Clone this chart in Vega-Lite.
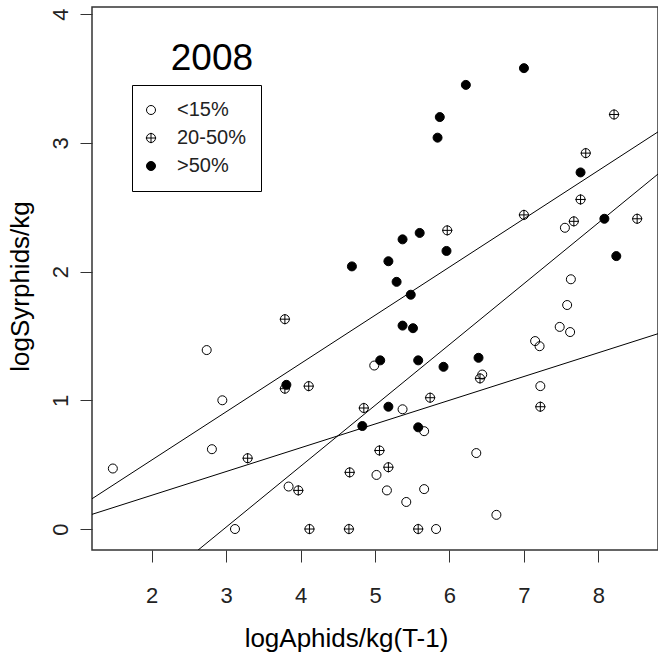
{
  "$schema": "https://vega.github.io/schema/vega-lite/v6.json",
  "autosize": "none",
  "width": 566,
  "height": 543,
  "padding": {"left": 92, "top": 7, "right": 0, "bottom": 112},
  "background": "white",
  "datasets": {
    "catches": [
      {"group": "<15%", "aphids": 1.48, "syrphids": 0.47},
      {"group": "<15%", "aphids": 2.74, "syrphids": 1.39},
      {"group": "<15%", "aphids": 2.95, "syrphids": 1.00},
      {"group": "<15%", "aphids": 2.81, "syrphids": 0.62},
      {"group": "<15%", "aphids": 3.12, "syrphids": 0.00},
      {"group": "<15%", "aphids": 3.84, "syrphids": 0.33},
      {"group": "<15%", "aphids": 4.99, "syrphids": 1.27},
      {"group": "<15%", "aphids": 5.37, "syrphids": 0.93},
      {"group": "<15%", "aphids": 5.66, "syrphids": 0.76},
      {"group": "<15%", "aphids": 6.36, "syrphids": 0.59},
      {"group": "<15%", "aphids": 5.02, "syrphids": 0.42},
      {"group": "<15%", "aphids": 5.16, "syrphids": 0.30},
      {"group": "<15%", "aphids": 5.66, "syrphids": 0.31},
      {"group": "<15%", "aphids": 5.42, "syrphids": 0.21},
      {"group": "<15%", "aphids": 5.82, "syrphids": 0.00},
      {"group": "<15%", "aphids": 6.44, "syrphids": 1.20},
      {"group": "<15%", "aphids": 7.63, "syrphids": 1.94},
      {"group": "<15%", "aphids": 7.58, "syrphids": 1.74},
      {"group": "<15%", "aphids": 7.48, "syrphids": 1.57},
      {"group": "<15%", "aphids": 7.62, "syrphids": 1.53},
      {"group": "<15%", "aphids": 7.15, "syrphids": 1.46},
      {"group": "<15%", "aphids": 7.21, "syrphids": 1.42},
      {"group": "<15%", "aphids": 7.22, "syrphids": 1.11},
      {"group": "<15%", "aphids": 6.63, "syrphids": 0.11},
      {"group": "<15%", "aphids": 7.55, "syrphids": 2.34},
      {"group": "20-50%", "aphids": 3.79, "syrphids": 1.63},
      {"group": "20-50%", "aphids": 3.79, "syrphids": 1.09},
      {"group": "20-50%", "aphids": 3.29, "syrphids": 0.55},
      {"group": "20-50%", "aphids": 4.11, "syrphids": 1.11},
      {"group": "20-50%", "aphids": 4.85, "syrphids": 0.94},
      {"group": "20-50%", "aphids": 5.74, "syrphids": 1.02},
      {"group": "20-50%", "aphids": 6.41, "syrphids": 1.17},
      {"group": "20-50%", "aphids": 5.06, "syrphids": 0.61},
      {"group": "20-50%", "aphids": 5.18, "syrphids": 0.48},
      {"group": "20-50%", "aphids": 4.66, "syrphids": 0.44},
      {"group": "20-50%", "aphids": 3.97, "syrphids": 0.30},
      {"group": "20-50%", "aphids": 4.12, "syrphids": 0.00},
      {"group": "20-50%", "aphids": 4.65, "syrphids": 0.00},
      {"group": "20-50%", "aphids": 5.58, "syrphids": 0.00},
      {"group": "20-50%", "aphids": 7.22, "syrphids": 0.95},
      {"group": "20-50%", "aphids": 7.83, "syrphids": 2.92},
      {"group": "20-50%", "aphids": 7.76, "syrphids": 2.56},
      {"group": "20-50%", "aphids": 7.67, "syrphids": 2.39},
      {"group": "20-50%", "aphids": 7.00, "syrphids": 2.44},
      {"group": "20-50%", "aphids": 8.52, "syrphids": 2.41},
      {"group": "20-50%", "aphids": 5.97, "syrphids": 2.32},
      {"group": "20-50%", "aphids": 8.21, "syrphids": 3.22},
      {"group": ">50%", "aphids": 7.00, "syrphids": 3.58},
      {"group": ">50%", "aphids": 6.22, "syrphids": 3.45},
      {"group": ">50%", "aphids": 5.87, "syrphids": 3.20},
      {"group": ">50%", "aphids": 5.84, "syrphids": 3.04},
      {"group": ">50%", "aphids": 7.76, "syrphids": 2.77},
      {"group": ">50%", "aphids": 8.08, "syrphids": 2.41},
      {"group": ">50%", "aphids": 8.24, "syrphids": 2.12},
      {"group": ">50%", "aphids": 4.69, "syrphids": 2.04},
      {"group": ">50%", "aphids": 5.18, "syrphids": 2.08},
      {"group": ">50%", "aphids": 5.37, "syrphids": 2.25},
      {"group": ">50%", "aphids": 5.60, "syrphids": 2.30},
      {"group": ">50%", "aphids": 5.96, "syrphids": 2.16},
      {"group": ">50%", "aphids": 5.29, "syrphids": 1.92},
      {"group": ">50%", "aphids": 5.48, "syrphids": 1.82},
      {"group": ">50%", "aphids": 5.37, "syrphids": 1.58},
      {"group": ">50%", "aphids": 5.51, "syrphids": 1.56},
      {"group": ">50%", "aphids": 5.07, "syrphids": 1.31},
      {"group": ">50%", "aphids": 5.58, "syrphids": 1.31},
      {"group": ">50%", "aphids": 5.92, "syrphids": 1.26},
      {"group": ">50%", "aphids": 6.39, "syrphids": 1.33},
      {"group": ">50%", "aphids": 5.18, "syrphids": 0.95},
      {"group": ">50%", "aphids": 4.83, "syrphids": 0.80},
      {"group": ">50%", "aphids": 5.58, "syrphids": 0.79},
      {"group": ">50%", "aphids": 3.81, "syrphids": 1.12}
    ],
    "fits": [
      {"fit": ">50%", "aphids": 1.0, "syrphids": 0.16},
      {"fit": ">50%", "aphids": 9.0, "syrphids": 3.16},
      {"fit": "<15%", "aphids": 1.0, "syrphids": 0.077},
      {"fit": "<15%", "aphids": 9.0, "syrphids": 1.554},
      {"fit": "20-50%", "aphids": 2.0, "syrphids": -0.459},
      {"fit": "20-50%", "aphids": 9.0, "syrphids": 2.852}
    ],
    "year": [
      {"label": "2008", "aphids": 2.81, "syrphids": 3.563}
    ]
  },
  "layer": [
    {
      "data": {"name": "fits"},
      "mark": {"type": "line", "color": "black", "strokeWidth": 1, "clip": true},
      "encoding": {
        "x": {"field": "aphids", "type": "quantitative"},
        "y": {"field": "syrphids", "type": "quantitative"},
        "detail": {"field": "fit"}
      }
    },
    {
      "data": {"name": "catches"},
      "mark": {"type": "point", "filled": true, "strokeWidth": 1, "opacity": 1, "size": 81},
      "encoding": {
        "x": {
          "field": "aphids", "type": "quantitative",
          "scale": {"domain": [1.2, 8.8], "nice": false, "zero": false},
          "axis": {
            "values": [2, 3, 4, 5, 6, 7, 8],
            "format": "d",
            "title": "logAphids/kg(T-1)",
            "labelPadding": 23,
            "titleX": 254, "titleY": 96,
            "titleAlign": "center", "titleBaseline": "alphabetic", "titleAnchor": null
          }
        },
        "y": {
          "field": "syrphids", "type": "quantitative",
          "scale": {"domain": [-0.163, 4.055], "nice": false, "zero": false},
          "axis": {
            "values": [0, 1, 2, 3, 4],
            "format": "d",
            "title": "logSyrphids/kg",
            "labelAngle": -90, "labelAlign": "center", "labelBaseline": "alphabetic",
            "labelPadding": 13,
            "titleAngle": -90, "titleX": -64, "titleY": 279,
            "titleAlign": "center", "titleBaseline": "alphabetic", "titleAnchor": null
          }
        },
        "shape": {
          "field": "group", "type": "nominal",
          "scale": {
            "domain": ["<15%", "20-50%", ">50%"],
            "range": ["circle", "M1,0A1,1,0,1,1,-1,0A1,1,0,1,1,1,0M-1.15,0L1.15,0M0,-1.15L0,1.15", "circle"]
          },
          "legend": {"title": null, "orient": "none", "legendX": 40, "legendY": 78}
        },
        "fill": {
          "field": "group", "type": "nominal",
          "scale": {
            "domain": ["<15%", "20-50%", ">50%"],
            "range": ["transparent", "transparent", "black"]
          },
          "legend": {"title": null, "orient": "none", "legendX": 40, "legendY": 78}
        },
        "stroke": {
          "field": "group", "type": "nominal",
          "scale": {
            "domain": ["<15%", "20-50%", ">50%"],
            "range": ["black", "black", "black"]
          },
          "legend": {"title": null, "orient": "none", "legendX": 40, "legendY": 78}
        }
      }
    },
    {
      "data": {"name": "year"},
      "mark": {"type": "text", "font": "Liberation Sans", "fontSize": 37, "align": "center", "baseline": "alphabetic", "color": "black"},
      "encoding": {
        "x": {"field": "aphids", "type": "quantitative"},
        "y": {"field": "syrphids", "type": "quantitative"},
        "text": {"field": "label"}
      }
    }
  ],
  "config": {
    "view": {"stroke": "#333333", "strokeWidth": 1.5},
    "font": "Liberation Sans",
    "axis": {
      "domain": false,
      "grid": false,
      "ticks": true,
      "tickSize": 12,
      "tickWidth": 1,
      "tickColor": "#333333",
      "labelFont": "Liberation Sans",
      "labelFontSize": 22,
      "labelColor": "#222222",
      "labelFlush": false,
      "labelOverlap": false,
      "titleFont": "Liberation Sans",
      "titleFontSize": 26,
      "titleFontWeight": "normal",
      "titleColor": "black"
    },
    "legend": {
      "padding": 15,
      "strokeColor": "black",
      "fillColor": "white",
      "cornerRadius": 0,
      "symbolSize": 81,
      "symbolStrokeWidth": 1,
      "symbolOffset": -6,
      "labelFont": "Liberation Sans",
      "labelFontSize": 20,
      "labelColor": "#222222",
      "labelOffset": 16,
      "rowPadding": 8,
      "labelLimit": 200
    }
  }
}
